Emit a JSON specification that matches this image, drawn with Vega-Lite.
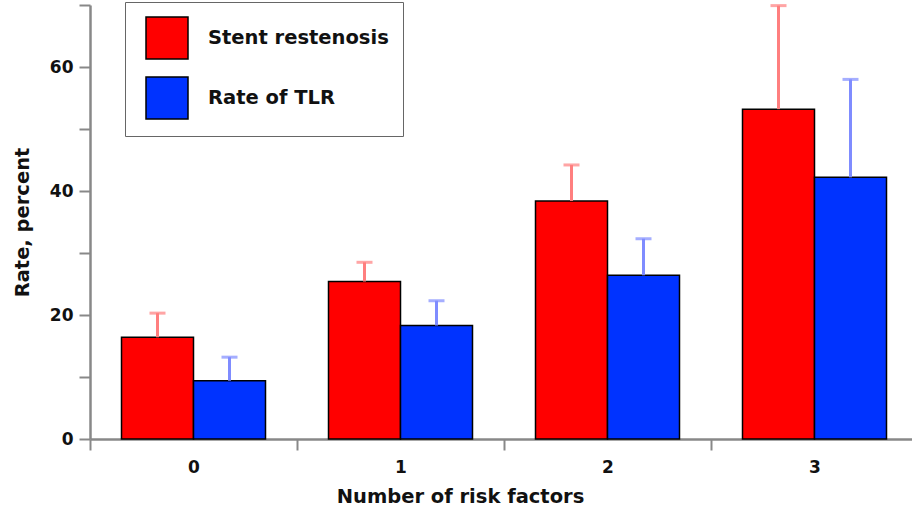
{
  "$schema": "https://vega.github.io/schema/vega-lite/v6.json",
  "width": 828,
  "height": 434,
  "padding": {"left": 12, "top": 1, "right": 0, "bottom": 5},
  "background": "white",
  "config": {
    "font": "DejaVu Sans",
    "view": {"stroke": null},
    "axis": {
      "domainColor": "#888888",
      "domainWidth": 2.5,
      "tickColor": "#888888",
      "tickWidth": 2,
      "tickSize": 11,
      "grid": false,
      "labelFont": "DejaVu Sans",
      "labelFontWeight": "bold",
      "labelFontSize": 17,
      "labelColor": "#111111",
      "titleFont": "DejaVu Sans",
      "titleFontWeight": "bold",
      "titleFontSize": 19.5,
      "titleColor": "#111111"
    }
  },
  "data": {
    "values": [
      {"risk": "0", "series": "Stent restenosis", "value": 16.4, "upper": 20.3},
      {"risk": "0", "series": "Rate of TLR", "value": 9.4, "upper": 13.2},
      {"risk": "1", "series": "Stent restenosis", "value": 25.4, "upper": 28.5},
      {"risk": "1", "series": "Rate of TLR", "value": 18.3, "upper": 22.3},
      {"risk": "2", "series": "Stent restenosis", "value": 38.4, "upper": 44.2},
      {"risk": "2", "series": "Rate of TLR", "value": 26.4, "upper": 32.3},
      {"risk": "3", "series": "Stent restenosis", "value": 53.2, "upper": 69.9},
      {"risk": "3", "series": "Rate of TLR", "value": 42.2, "upper": 58.0}
    ]
  },
  "encoding": {
    "x": {
      "field": "risk",
      "type": "nominal",
      "scale": {"paddingInner": 0, "paddingOuter": 0},
      "axis": {
        "title": "Number of risk factors",
        "labelAngle": 0,
        "tickBand": "extent",
        "labelPadding": 9,
        "titlePadding": 12,
        "titleX": 370
      }
    },
    "xOffset": {
      "field": "series",
      "type": "nominal",
      "scale": {"domain": ["Stent restenosis", "Rate of TLR"], "paddingInner": 0, "paddingOuter": 0.4375}
    }
  },
  "layer": [
    {
      "mark": {"type": "bar", "stroke": "black", "strokeWidth": 1.5},
      "encoding": {
        "y": {
          "field": "value",
          "type": "quantitative",
          "scale": {"domain": [0, 70], "nice": false},
          "axis": {
            "title": "Rate, percent",
            "values": [0, 10, 20, 30, 40, 50, 60, 70],
            "labelExpr": "datum.value % 20 === 0 ? datum.label : ''",
            "labelPadding": 6,
            "titlePadding": 17
          }
        },
        "color": {
          "field": "series",
          "type": "nominal",
          "scale": {"domain": ["Stent restenosis", "Rate of TLR"], "range": ["#ff0000", "#0033ff"]},
          "legend": {
            "title": null,
            "orient": "none",
            "legendX": 35,
            "legendY": -3,
            "direction": "vertical",
            "symbolType": "square",
            "symbolSize": 1764,
            "symbolStrokeColor": "black",
            "symbolStrokeWidth": 1.5,
            "symbolOpacity": 1,
            "labelFont": "DejaVu Sans",
            "labelFontWeight": "bold",
            "labelFontSize": 19.5,
            "labelColor": "#111111",
            "labelOffset": 19,
            "rowPadding": 12,
            "padding": 14,
            "symbolOffset": 6,
            "strokeColor": "#666666",
            "fillColor": "white",
            "labelLimit": 400
          }
        }
      }
    },
    {
      "mark": {"type": "rule", "strokeWidth": 3},
      "encoding": {
        "y": {"field": "value", "type": "quantitative"},
        "y2": {"field": "upper"},
        "stroke": {
          "condition": {"test": "datum.series === 'Stent restenosis'", "value": "#ff7f7f"},
          "value": "#7f8cff"
        }
      }
    },
    {
      "mark": {"type": "tick", "orient": "horizontal", "size": 16, "thickness": 3},
      "encoding": {
        "y": {"field": "upper", "type": "quantitative"},
        "fill": {
          "condition": {"test": "datum.series === 'Stent restenosis'", "value": "#ff7f7f"},
          "value": "#7f8cff"
        }
      }
    }
  ]
}
